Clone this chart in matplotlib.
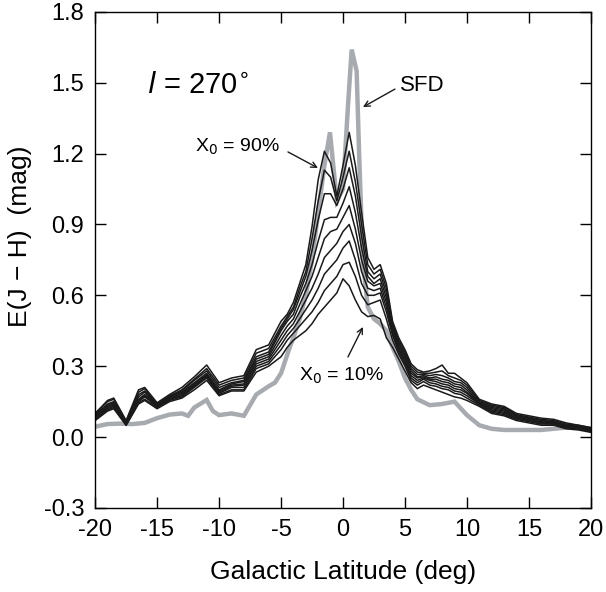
import numpy as np
import matplotlib
matplotlib.use("Agg")
import matplotlib.pyplot as plt

plt.rcParams['font.family'] = ['Liberation Sans', 'DejaVu Sans']
plt.rcParams['axes.unicode_minus'] = False

# galactic latitude grid for the model curves (deg)
lat = [-20, -19, -18.5, -17.5, -16.5, -16, -15, -14, -13, -12, -11, -10, -9, -8, -7, -6,
       -5, -4.5, -4, -3.5, -3, -2.5, -2, -1.5, -1, -0.5, 0, 0.5, 1, 1.5, 2, 2.5, 3, 3.5, 4, 4.5,
       5, 5.5, 6, 6.5, 7, 7.5, 8, 8.5, 9, 9.5, 10, 11, 12, 13, 14, 15, 16, 17, 18, 19, 20]

# E(J-H) for X0 = 10% ... 90%, one column per curve
rows = [
    [0.07, 0.075, 0.08, 0.085, 0.09, 0.09, 0.095, 0.10, 0.10],
    [0.11, 0.115, 0.12, 0.125, 0.13, 0.135, 0.14, 0.15, 0.155],
    [0.12, 0.125, 0.13, 0.135, 0.14, 0.145, 0.15, 0.16, 0.165],
    [0.05, 0.05, 0.055, 0.055, 0.06, 0.06, 0.065, 0.065, 0.07],
    [0.14, 0.145, 0.15, 0.155, 0.16, 0.17, 0.18, 0.19, 0.20],
    [0.155, 0.16, 0.17, 0.175, 0.18, 0.19, 0.195, 0.205, 0.21],
    [0.12, 0.125, 0.13, 0.13, 0.135, 0.135, 0.14, 0.14, 0.145],
    [0.15, 0.155, 0.16, 0.16, 0.165, 0.17, 0.17, 0.175, 0.18],
    [0.165, 0.17, 0.175, 0.18, 0.185, 0.19, 0.195, 0.20, 0.21],
    [0.20, 0.21, 0.215, 0.22, 0.225, 0.23, 0.24, 0.245, 0.255],
    [0.24, 0.25, 0.255, 0.26, 0.265, 0.27, 0.28, 0.29, 0.305],
    [0.175, 0.18, 0.185, 0.19, 0.195, 0.20, 0.21, 0.22, 0.23],
    [0.195, 0.20, 0.21, 0.215, 0.22, 0.225, 0.23, 0.24, 0.25],
    [0.195, 0.20, 0.21, 0.22, 0.225, 0.235, 0.24, 0.25, 0.26],
    [0.275, 0.29, 0.30, 0.31, 0.32, 0.33, 0.34, 0.355, 0.37],
    [0.30, 0.31, 0.32, 0.33, 0.34, 0.35, 0.36, 0.375, 0.39],
    [0.34, 0.37, 0.39, 0.41, 0.43, 0.45, 0.46, 0.47, 0.49],
    [0.38, 0.41, 0.43, 0.45, 0.47, 0.49, 0.50, 0.51, 0.52],
    [0.41, 0.44, 0.46, 0.48, 0.50, 0.52, 0.54, 0.55, 0.57],
    [0.43, 0.47, 0.50, 0.53, 0.56, 0.59, 0.61, 0.63, 0.65],
    [0.45, 0.50, 0.54, 0.58, 0.62, 0.65, 0.68, 0.70, 0.73],
    [0.48, 0.53, 0.58, 0.63, 0.68, 0.73, 0.79, 0.84, 0.89],
    [0.52, 0.57, 0.63, 0.69, 0.76, 0.83, 0.92, 1.00, 1.09],
    [0.55, 0.62, 0.69, 0.76, 0.84, 0.92, 1.03, 1.13, 1.21],
    [0.58, 0.65, 0.72, 0.79, 0.87, 0.93, 1.03, 1.10, 1.16],
    [0.61, 0.68, 0.75, 0.82, 0.88, 0.93, 0.98, 1.00, 1.02],
    [0.67, 0.73, 0.80, 0.87, 0.93, 0.99, 1.05, 1.10, 1.15],
    [0.64, 0.74, 0.83, 0.90, 0.98, 1.06, 1.14, 1.21, 1.29],
    [0.58, 0.68, 0.75, 0.82, 0.88, 0.95, 1.02, 1.08, 1.15],
    [0.53, 0.60, 0.65, 0.70, 0.75, 0.80, 0.85, 0.90, 0.95],
    [0.51, 0.56, 0.60, 0.63, 0.66, 0.68, 0.70, 0.73, 0.76],
    [0.515, 0.57, 0.60, 0.62, 0.64, 0.65, 0.67, 0.69, 0.71],
    [0.50, 0.58, 0.61, 0.63, 0.65, 0.67, 0.69, 0.71, 0.73],
    [0.42, 0.50, 0.53, 0.55, 0.57, 0.59, 0.61, 0.63, 0.65],
    [0.38, 0.41, 0.43, 0.44, 0.45, 0.46, 0.47, 0.48, 0.49],
    [0.33, 0.35, 0.36, 0.37, 0.38, 0.39, 0.40, 0.41, 0.42],
    [0.28, 0.30, 0.31, 0.32, 0.33, 0.34, 0.35, 0.36, 0.37],
    [0.23, 0.24, 0.25, 0.26, 0.27, 0.28, 0.29, 0.30, 0.31],
    [0.205, 0.22, 0.23, 0.24, 0.25, 0.255, 0.265, 0.275, 0.285],
    [0.22, 0.235, 0.245, 0.25, 0.255, 0.26, 0.265, 0.27, 0.275],
    [0.21, 0.22, 0.23, 0.24, 0.245, 0.25, 0.26, 0.27, 0.28],
    [0.20, 0.215, 0.225, 0.235, 0.245, 0.255, 0.265, 0.275, 0.29],
    [0.19, 0.205, 0.215, 0.225, 0.235, 0.245, 0.26, 0.28, 0.305],
    [0.18, 0.20, 0.21, 0.22, 0.23, 0.24, 0.25, 0.26, 0.27],
    [0.17, 0.185, 0.195, 0.205, 0.215, 0.225, 0.235, 0.25, 0.27],
    [0.165, 0.18, 0.19, 0.20, 0.21, 0.22, 0.23, 0.24, 0.25],
    [0.155, 0.165, 0.175, 0.185, 0.19, 0.20, 0.21, 0.22, 0.23],
    [0.13, 0.135, 0.14, 0.14, 0.145, 0.145, 0.15, 0.155, 0.16],
    [0.10, 0.105, 0.11, 0.115, 0.12, 0.125, 0.13, 0.135, 0.14],
    [0.09, 0.095, 0.10, 0.105, 0.11, 0.115, 0.12, 0.125, 0.13],
    [0.07, 0.075, 0.08, 0.08, 0.085, 0.09, 0.09, 0.095, 0.10],
    [0.06, 0.065, 0.07, 0.07, 0.075, 0.08, 0.08, 0.085, 0.09],
    [0.05, 0.055, 0.06, 0.06, 0.065, 0.07, 0.07, 0.075, 0.08],
    [0.05, 0.055, 0.055, 0.06, 0.06, 0.065, 0.065, 0.07, 0.075],
    [0.035, 0.04, 0.04, 0.045, 0.045, 0.05, 0.05, 0.055, 0.06],
    [0.03, 0.035, 0.035, 0.04, 0.04, 0.045, 0.045, 0.05, 0.05],
    [0.02, 0.025, 0.025, 0.03, 0.03, 0.035, 0.035, 0.04, 0.04],
]

# SFD reddening
sfd_lat = [-20, -19, -18, -17, -16, -15, -14, -13, -12.5, -12, -11, -10.5, -10, -9, -8, -7, -6,
           -5.5, -5, -4.3, -4, -3.5, -3, -2.5, -2, -1.5, -1.05, -0.5, 0, 0.4, 0.7, 1.1, 1.3, 1.6,
           2, 2.5, 3, 3.5, 4, 4.5, 5, 5.5, 6, 7, 8, 9, 10, 11, 12, 13, 14, 15, 16, 17, 18, 19, 20]
sfd = [0.044, 0.055, 0.057, 0.055, 0.06, 0.08, 0.095, 0.10, 0.09, 0.125, 0.157, 0.11, 0.093,
       0.10, 0.09, 0.18, 0.215, 0.23, 0.27, 0.38, 0.42, 0.50, 0.60, 0.75, 0.95, 1.15, 1.29, 1.0,
       1.05, 1.4, 1.64, 1.55, 1.2, 0.75, 0.55, 0.50, 0.48, 0.45, 0.38, 0.32, 0.25, 0.20, 0.16,
       0.135, 0.14, 0.15, 0.093, 0.05, 0.035, 0.03, 0.03, 0.03, 0.03, 0.035, 0.04, 0.04, 0.03]

curves = np.array(rows)

fig = plt.figure(figsize=(6.06, 5.92), dpi=100)
ax = fig.add_axes([0.157, 0.142, 0.818, 0.838])

ax.plot(sfd_lat, sfd, color='#a7aaaf', lw=3.2, zorder=1, solid_joinstyle='miter')
for k in range(curves.shape[1]):
    ax.plot(lat, curves[:, k], color='#1a1a1a', lw=1.1, zorder=2)

ax.set_xlim(-20, 20)
ax.set_ylim(-0.3, 1.8)
ax.set_xticks(np.arange(-20, 21, 5))
ax.set_yticks(np.arange(-0.3, 1.81, 0.3))
ax.set_yticklabels(['-0.3', '0.0', '0.3', '0.6', '0.9', '1.2', '1.5', '1.8'])
ax.tick_params(direction='in', length=8, width=1, top=True, right=True,
               labelsize=17, pad=8)
for s in ax.spines.values():
    s.set_linewidth(1)

ax.set_xlabel('Galactic Latitude (deg)', fontsize=19, labelpad=14)
ax.set_ylabel('E(J \u2212 H)  (mag)', fontsize=19)
ax.yaxis.set_label_coords(-0.128, 0.548)

ax.text(-15.8, 1.49, r'$\mathit{l}$ = 270$^{\circ}$', fontsize=21, va='center', ha='left',
        math_fontfamily='dejavusans')

arr = dict(arrowstyle='->', color='#1a1a1a', lw=1.0, shrinkA=0, shrinkB=0)
ax.text(6.4, 1.49, 'SFD', fontsize=16, va='center', ha='center')
ax.annotate('', xy=(1.61, 1.397), xytext=(4.19, 1.473), arrowprops=arr)

ax.text(-8.55, 1.228, 'X$_0$ = 90%', fontsize=14, va='center', ha='center')
ax.annotate('', xy=(-2.02, 1.139), xytext=(-4.44, 1.207), arrowprops=arr)

ax.text(-0.16, 0.258, 'X$_0$ = 10%', fontsize=14, va='center', ha='center')
ax.annotate('', xy=(1.61, 0.466), xytext=(0.4, 0.339), arrowprops=arr)

fig.savefig('out.png', dpi=100)
